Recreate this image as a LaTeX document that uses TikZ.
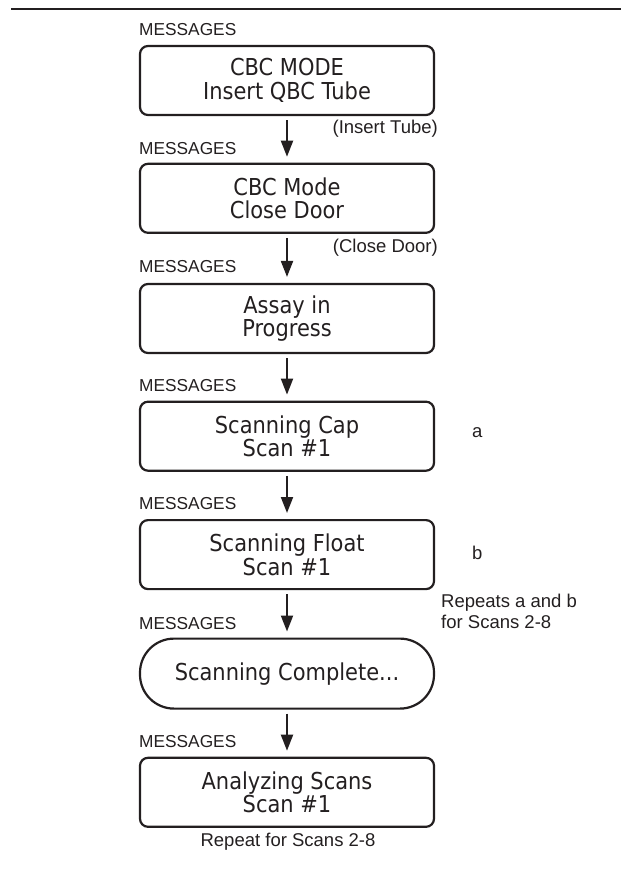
\documentclass[tikz,border=0pt]{standalone}
\usepackage{fontspec}
\setmainfont{Liberation Sans}
\newfontfamily\boxfont[FakeStretch=0.9]{DejaVu Sans}
\usetikzlibrary{arrows.meta}
\definecolor{ink}{RGB}{35,31,32}
\tikzset{
  msgbox/.style={draw=ink, line width=2.2pt, rounded corners=8pt,
    minimum width=294pt, minimum height=69pt, inner sep=0pt,
    align=center, text=ink, font=\boxfont\fontsize{23.3}{23.5}\selectfont},
  pillbox/.style={msgbox, rounded corners=34pt, minimum height=70pt},
  msglabel/.style={anchor=west, inner sep=0pt, text=ink,
    font=\fontsize{17.3}{20}\selectfont},
  note/.style={inner sep=0pt, text=ink, font=\fontsize{18.5}{21}\selectfont},
  flow/.style={draw=ink, line width=2pt,
    -{Triangle[length=16pt,width=12pt]}, shorten <=4pt, shorten >=6pt}
}
\begin{document}
\begin{tikzpicture}[x=1pt,y=-1pt]
\useasboundingbox (0,0) rectangle (624,876);
\draw[ink, line width=2.5pt] (11,9) -- (621,9);

% labels
\node[msglabel] (m1) at (139,30) {MESSAGES};
\node[msglabel] (m2) at (139,149) {MESSAGES};
\node[msglabel] (m3) at (139,267) {MESSAGES};
\node[msglabel] (m4) at (139,386) {MESSAGES};
\node[msglabel] (m5) at (139,504) {MESSAGES};
\node[msglabel] (m6) at (139,624) {MESSAGES};
\node[msglabel] (m7) at (139,742) {MESSAGES};

% boxes
\node[msgbox] (b1) at (287,80.5) {CBC MODE\\Insert QBC Tube};
\node[msgbox] (b2) at (287,198.3) {CBC Mode\\Close Door};
\node[msgbox] (b3) at (287,318.5) {Assay in\\Progress};
\node[msgbox] (b4) at (287,436.2) {Scanning Cap\\Scan \#1};
\node[msgbox] (b5) at (287,554.6) {Scanning Float\\Scan \#1};
\node[pillbox] (b6) at (287,673.6) {Scanning Complete...};
\node[msgbox] (b7) at (287,792.3) {Analyzing Scans\\Scan \#1};

% arrows
\draw[flow] (b1) -- (b2);
\draw[flow] (b2) -- (b3);
\draw[flow] (b3) -- (b4);
\draw[flow] (b4) -- (b5);
\draw[flow] (b5) -- (b6);
\draw[flow] (b6) -- (b7);

% notes
\node[note, anchor=east] (n1) at (438,129) {(Insert Tube)};
\node[note, anchor=east] (n2) at (438,248) {(Close Door)};
\node[note, anchor=west] (na) at (472,433) {a};
\node[note, anchor=west] (nb) at (472,553) {b};
\node[note, anchor=west, align=left] (nr) at (441,611) {Repeats a and b\\for Scans 2-8};
\node[note] (n7) at (288,841.5) {Repeat for Scans 2-8};
\end{tikzpicture}
\end{document}
